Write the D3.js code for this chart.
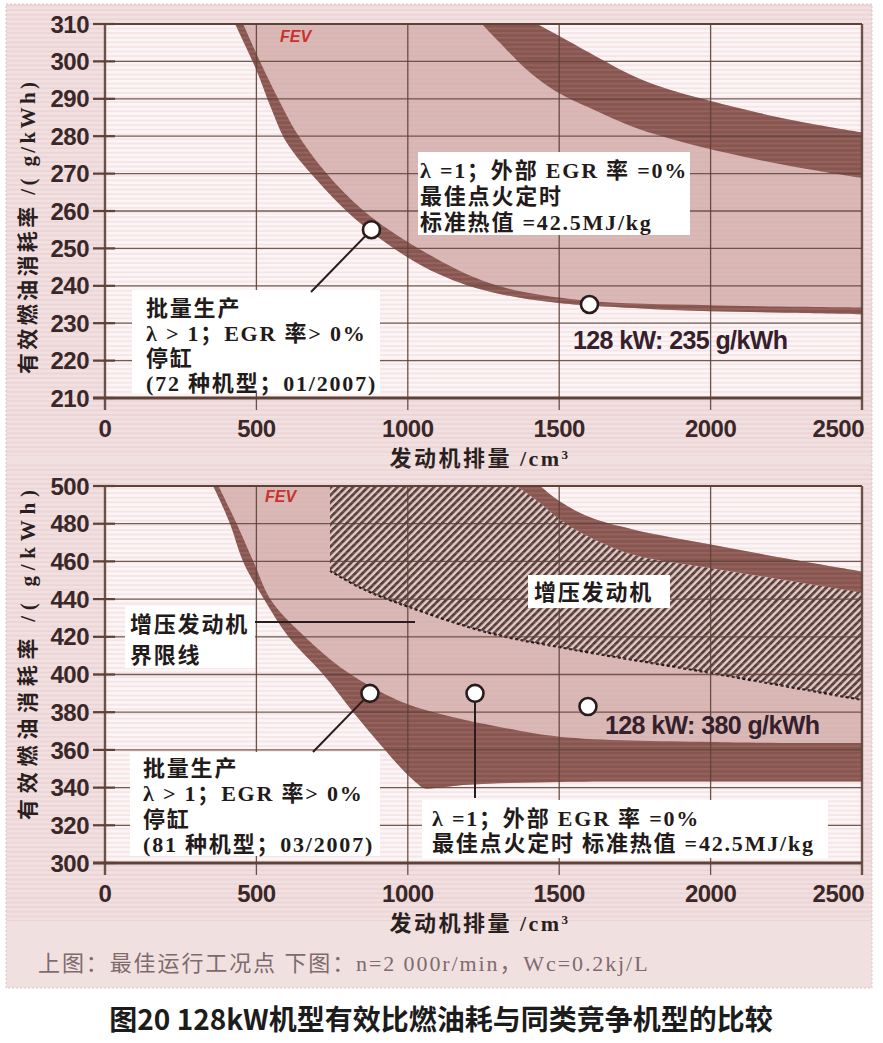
<!DOCTYPE html>
<html>
<head>
<meta charset="utf-8">
<script src="https://cdn.jsdelivr.net/npm/d3@7"></script>
<style>
body { margin: 0; background: #fff; }
svg { display: block; }
</style>
</head>
<body>
<script>
// ---- values ----
var xTicks = [0, 500, 1000, 1500, 2000, 2500];
var topYTicks = [210, 220, 230, 240, 250, 260, 270, 280, 290, 300, 310];
var botYTicks = [300, 320, 340, 360, 380, 400, 420, 440, 460, 480, 500];

// top chart, mass-production band
var topBandLowX = [430, 460, 500, 550, 600, 700, 800, 900, 1000, 1100, 1200, 1300, 1400, 1500, 1600, 1800, 2000, 2250, 2500];
var topBandLowY = [310, 304.8, 297.7, 287.2, 278.3, 268.2, 259.8, 253.1, 247.6, 243.2, 240.0, 237.9, 236.4, 235.4, 234.7, 233.8, 233.2, 232.8, 232.4];
var topBandHighX = [422, 456, 512, 572, 632, 730, 855, 1035, 1271, 1569, 2000, 2500];
var topBandHighY = [316, 310, 300, 290, 281, 270.2, 260, 250, 240.7, 236.2, 234.8, 234.2];
// top chart, upper competitor band
var topRightLowX = [1200, 1245, 1300, 1364, 1427, 1500, 1600, 1734, 1850, 2000, 2250, 2500];
var topRightLowY = [314, 310, 305.3, 300, 295.5, 291.5, 287.6, 282.8, 279.7, 276.5, 272.2, 268.8];
var topRightHighX = [1380, 1427, 1500, 1600, 1734, 1850, 2000, 2250, 2500];
var topRightHighY = [312, 310, 306.8, 302.3, 296.5, 292.8, 289.4, 284.6, 281];
var topPointsX = [880, 1600];
var topPointsY = [255, 235];

// bottom chart, mass-production band
var botBandLowX = [350, 357, 413, 456, 525, 606, 721, 820, 925, 984, 1040, 1055, 1090, 1200, 1500, 2000, 2500];
var botBandLowY = [502, 500, 480, 460, 440, 420, 400, 380, 360, 349.3, 341, 339.6, 339.8, 341.5, 343, 343.2, 343.2];
var botBandHighX = [370, 375, 435, 490, 550, 660, 776, 898, 1007, 1162, 1271, 1500, 2000, 2500];
var botBandHighY = [502, 500, 480, 460, 439, 420, 404, 391.8, 383.8, 376.9, 373.2, 367, 364.2, 363.6];
// bottom chart, upper competitor band
var botRightLowX = [1300, 1360, 1437, 1500, 1600, 1750, 2000, 2250, 2500];
var botRightLowY = [506, 500, 491, 482.5, 473, 463.4, 456.5, 450, 443.5];
var botRightHighX = [1400, 1437, 1500, 1600, 1750, 2000, 2250, 2500];
var botRightHighY = [505, 500, 492, 483.5, 476.7, 469, 461.5, 454.6];
// bottom chart, turbo engine limit (dashed)
var turboLimitX = [743, 850, 1000, 1270, 1500, 2000, 2500];
var turboLimitY = [455, 445.5, 436, 422, 414.5, 400.8, 386.5];
var botPointsX = [875, 1222, 1595];
var botPointsY = [390, 390, 383];

var topNoteA = ["λ =1；外部 EGR 率 =0%", "最佳点火定时", "标准热值 =42.5MJ/kg"];
var topNoteB = ["批量生产", "λ > 1；EGR 率> 0%", "停缸", "(72 种机型；01/2007)"];
var topPointLabel = "128 kW: 235 g/kWh";
var botNoteA = ["批量生产", "λ > 1；EGR 率> 0%", "停缸", "(81 种机型；03/2007)"];
var botNoteB = ["λ =1；外部 EGR 率 =0%", "最佳点火定时 标准热值 =42.5MJ/kg"];
var turboLabel = "增压发动机";
var limitLabel = ["增压发动机", "界限线"];
var botPointLabel = "128 kW: 380 g/kWh";
var xTitle = "发动机排量 /cm";
var yTitle = "有效燃油消耗率 /( g/kWh)";
var caption = "上图：最佳运行工况点  下图：n=2 000r/min，Wc=0.2kj/L";
var figTitle = "图20 128kW机型有效比燃油耗与同类竞争机型的比较";

// ---- drawing ----
var W = 883, H = 1043;
var dark = "#87564f", light = "#d9b9b6", ink = "#3a2828", grid = "#5e4238";
var serif = "'Liberation Serif','Noto Sans CJK SC',serif";
var sans = "'Liberation Sans',Arial,sans-serif";

var svg = d3.select("body").append("svg").attr("width", W).attr("height", H);
var defs = svg.append("defs");

// hatch for turbo engines
var hatch = defs.append("pattern").attr("id", "hatch")
  .attr("patternUnits", "userSpaceOnUse").attr("width", 5.2).attr("height", 10)
  .attr("patternTransform", "rotate(45)");
hatch.append("rect").attr("width", 5.2).attr("height", 10).attr("fill", "#e2cfcc");
hatch.append("rect").attr("width", 2.8).attr("height", 10).attr("fill", "#574039");

// scan stripes
var scan = defs.append("pattern").attr("id", "scan")
  .attr("patternUnits", "userSpaceOnUse").attr("width", 20).attr("height", 4.6);
scan.append("rect").attr("width", 20).attr("height", 1.8).attr("fill", "#d89aa8");

svg.append("rect").attr("x", 6).attr("y", 4).attr("width", 866).attr("height", 984)
  .attr("fill", "#f1e0e0").attr("stroke", "#d9c8c8").attr("stroke-dasharray", "2,2");

var x = d3.scaleLinear().domain([0, 2500]).range([105, 862]);
var yTop = d3.scaleLinear().domain([210, 310]).range([398, 24]);
var yBot = d3.scaleLinear().domain([300, 500]).range([863, 486]);

function pts(xs, ys) { return xs.map(function(v, i) { return [v, ys[i]]; }); }
function rev(a) { return a.slice().reverse(); }

function shape(y, parts) {
  var line = d3.line().x(function(d) { return x(d[0]); }).y(function(d) { return y(d[1]); })
    .curve(d3.curveCatmullRom.alpha(0.5));
  var s = "";
  parts.forEach(function(p, i) {
    var d = p.length == 1 ? "M" + x(p[0][0]) + "," + y(p[0][1]) : line(p);
    s += i ? "L" + d.slice(1) : d;
  });
  return s + "Z";
}

function chart(id, y, ticks) {
  var g = svg.append("g");
  var y0 = y.range()[0], y1 = y.range()[1];
  defs.append("clipPath").attr("id", "clip" + id).append("rect")
    .attr("x", x(0)).attr("y", y1).attr("width", x(2500) - x(0)).attr("height", y0 - y1);
  g.append("rect").attr("x", x(0)).attr("y", y1).attr("width", x(2500) - x(0)).attr("height", y0 - y1)
    .attr("fill", "#fcf5f5");
  var area = g.append("g").attr("clip-path", "url(#clip" + id + ")");
  return { g: g, area: area, y: y, ticks: ticks };
}

function frame(c, titleY, titleLen) {
  var g = c.g, y = c.y;
  var y0 = y.range()[0], y1 = y.range()[1];
  // stripes of the scan
  g.append("rect").attr("x", 6).attr("y", y1 - 22).attr("width", 866).attr("height", y0 - y1 + 80)
    .attr("fill", "url(#scan)").attr("opacity", 0.18);
  // grid
  g.selectAll(".hg").data(c.ticks).enter().append("line")
    .attr("x1", 93).attr("x2", x(2500)).attr("y1", y).attr("y2", y)
    .attr("stroke", grid).attr("stroke-width", 1.3).attr("opacity", 0.85);
  g.selectAll(".ht").data(c.ticks).enter().append("line")
    .attr("x1", 93).attr("x2", 115).attr("y1", y).attr("y2", y)
    .attr("stroke", grid).attr("stroke-width", 2.2);
  g.selectAll(".vg").data(xTicks).enter().append("line")
    .attr("x1", x).attr("x2", x).attr("y1", y1).attr("y2", y0 + 12)
    .attr("stroke", grid).attr("stroke-width", function(d) { return d == 0 || d == 2500 ? 2.4 : 1.3; })
    .attr("opacity", 0.9);
  g.append("line").attr("x1", 93).attr("x2", x(2500)).attr("y1", y0).attr("y2", y0)
    .attr("stroke", grid).attr("stroke-width", 2.8);
  g.append("line").attr("x1", x(0)).attr("x2", x(2500)).attr("y1", y1).attr("y2", y1)
    .attr("stroke", grid).attr("stroke-width", 2.2);
  // tick labels
  g.selectAll(".yl").data(c.ticks).enter().append("text")
    .attr("x", 89).attr("y", y).attr("dy", "0.36em").attr("text-anchor", "end")
    .attr("font-family", sans).attr("font-weight", "bold").attr("font-size", 24)
    .attr("letter-spacing", -0.5).attr("fill", ink).text(function(d) { return d; });
  // the last label sits inside the right edge, as in the print
  g.selectAll(".xl").data(xTicks).enter().append("text")
    .attr("x", function(d) { return d == 2500 ? x(d) + 2 : x(d); })
    .attr("y", y0 + 30).attr("dy", "0.36em")
    .attr("text-anchor", function(d) { return d == 2500 ? "end" : "middle"; })
    .attr("font-family", sans).attr("font-weight", "bold").attr("font-size", 24)
    .attr("letter-spacing", -0.5).attr("fill", ink).text(function(d) { return d; });
  var xt = g.append("text").attr("x", 480).attr("y", y0 + 60).attr("dy", "0.36em")
    .attr("text-anchor", "middle").attr("font-family", serif).attr("font-weight", "bold")
    .attr("font-size", 22).attr("letter-spacing", 2.5).attr("fill", "#2a1f1f").text(xTitle);
  xt.append("tspan").attr("dy", "-0.55em").attr("font-size", 13).text("3");
  g.append("text").attr("transform", "translate(27," + titleY + ") rotate(-90)")
    .attr("dy", "0.36em").attr("text-anchor", "middle").attr("font-family", serif)
    .attr("font-weight", "bold").attr("font-size", 21).attr("fill", "#2a1f1f")
    .attr("textLength", titleLen).attr("lengthAdjust", "spacing").text(yTitle);
}

function note(g, bx, by, bw, bh, lines, tx, ty0, lh, size) {
  g.append("rect").attr("x", bx).attr("y", by).attr("width", bw).attr("height", bh).attr("fill", "#ffffff");
  g.selectAll(null).data(lines).enter().append("text")
    .attr("x", tx).attr("y", function(d, i) { return ty0 + i * lh; }).attr("dy", "0.36em")
    .attr("font-family", serif).attr("font-weight", "bold").attr("font-size", size)
    .attr("letter-spacing", 1.8).attr("fill", "#231a1a").text(function(d) { return d; });
}

function dots(g, y, xs, ys) {
  g.selectAll(null).data(xs).enter().append("circle")
    .attr("cx", function(d) { return x(d); }).attr("cy", function(d, i) { return y(ys[i]); })
    .attr("r", 8.5).attr("fill", "#fff").attr("stroke", "#2a1c1c").attr("stroke-width", 2.6);
}

function fev(g, px, py) {
  g.append("text").attr("x", px).attr("y", py).attr("font-family", sans).attr("font-style", "italic")
    .attr("font-weight", "bold").attr("font-size", 16).attr("fill", "#c8322c").text("FEV");
}

// ---------- top chart ----------
var topC = chart("T", yTop, topYTicks);
var tLow = pts(topBandLowX, topBandLowY), tHigh = pts(topBandHighX, topBandHighY);
var trLow = pts(topRightLowX, topRightLowY), trHigh = pts(topRightHighX, topRightHighY);
topC.area.append("path").attr("fill", light)
  .attr("d", shape(yTop, [tLow, rev(trHigh), [[430, 320]]]));
topC.area.append("path").attr("fill", dark).attr("d", shape(yTop, [tLow, rev(tHigh)]));
topC.area.append("path").attr("fill", dark).attr("d", shape(yTop, [trLow, rev(trHigh)]));
frame(topC, 228, 292);
fev(topC.g, 280, 42);

note(topC.g, 418, 152, 272, 83, topNoteA, 420, 170, 26, 22);
note(topC.g, 132, 290, 248, 103, topNoteB, 146, 308, 25, 22);
topC.g.append("line").attr("x1", x(topPointsX[0])).attr("y1", yTop(topPointsY[0]))
  .attr("x2", 311).attr("y2", 292).attr("stroke", "#2a1c1c").attr("stroke-width", 2);
dots(topC.g, yTop, topPointsX, topPointsY);
topC.g.append("text").attr("x", 573).attr("y", 340).attr("dy", "0.36em")
  .attr("font-family", sans).attr("font-weight", "bold").attr("font-size", 25)
  .attr("letter-spacing", -0.6).attr("fill", "#35202c").text(topPointLabel);

// ---------- bottom chart ----------
var botC = chart("B", yBot, botYTicks);
var bLow = pts(botBandLowX, botBandLowY), bHigh = pts(botBandHighX, botBandHighY);
var brLow = pts(botRightLowX, botRightLowY), brHigh = pts(botRightHighX, botRightHighY);
var lim = pts(turboLimitX, turboLimitY);
botC.area.append("path").attr("fill", light)
  .attr("d", shape(yBot, [bLow, rev(brHigh), [[350, 506]]]));
botC.area.append("path").attr("fill", "url(#hatch)")
  .attr("d", shape(yBot, [[[743, 506]], lim, rev(brLow), [[1300, 506]]]));
botC.area.append("path").attr("fill", "none").attr("stroke", "#231818").attr("stroke-width", 2.2)
  .attr("stroke-dasharray", "3,2.5")
  .attr("d", d3.line().x(function(d) { return x(d[0]); }).y(function(d) { return yBot(d[1]); })
    .curve(d3.curveCatmullRom.alpha(0.5))(lim));
botC.area.append("path").attr("fill", dark).attr("d", shape(yBot, [bLow, rev(bHigh)]));
botC.area.append("path").attr("fill", dark).attr("d", shape(yBot, [brLow, rev(brHigh)]));
frame(botC, 655, 330);
fev(botC.g, 265, 502);

note(botC.g, 528, 575, 142, 33, [turboLabel], 534, 592, 0, 22);
note(botC.g, 125, 606, 130, 62, limitLabel, 130, 624, 31, 22);
botC.g.append("line").attr("x1", 255).attr("x2", 415).attr("y1", 622).attr("y2", 622)
  .attr("stroke", "#2a1c1c").attr("stroke-width", 2);
note(botC.g, 130, 752, 250, 104, botNoteA, 143, 768, 25.5, 22);
note(botC.g, 422, 800, 406, 58, botNoteB, 432, 818, 25.5, 22);
botC.g.append("line").attr("x1", x(botPointsX[0])).attr("y1", yBot(botPointsY[0]))
  .attr("x2", 313).attr("y2", 752).attr("stroke", "#2a1c1c").attr("stroke-width", 2);
botC.g.append("line").attr("x1", x(botPointsX[1])).attr("y1", yBot(botPointsY[1]))
  .attr("x2", x(botPointsX[1])).attr("y2", 798).attr("stroke", "#2a1c1c").attr("stroke-width", 2);
dots(botC.g, yBot, botPointsX, botPointsY);
botC.g.append("text").attr("x", 605).attr("y", 725).attr("dy", "0.36em")
  .attr("font-family", sans).attr("font-weight", "bold").attr("font-size", 25)
  .attr("letter-spacing", -0.6).attr("fill", "#35202c").text(botPointLabel);

// ---------- captions ----------
svg.append("text").attr("x", 38).attr("y", 963).attr("dy", "0.36em")
  .attr("font-family", serif).attr("font-size", 22).attr("letter-spacing", 1.9)
  .attr("fill", "#7d6b6e").text(caption);
svg.append("text").attr("x", 441).attr("y", 1020).attr("dy", "0.36em").attr("text-anchor", "middle")
  .attr("font-family", "'Noto Sans CJK SC',sans-serif").attr("font-weight", "bold")
  .attr("font-size", 28).attr("fill", "#1c1c1c").text(figTitle);
</script>
</body>
</html>
